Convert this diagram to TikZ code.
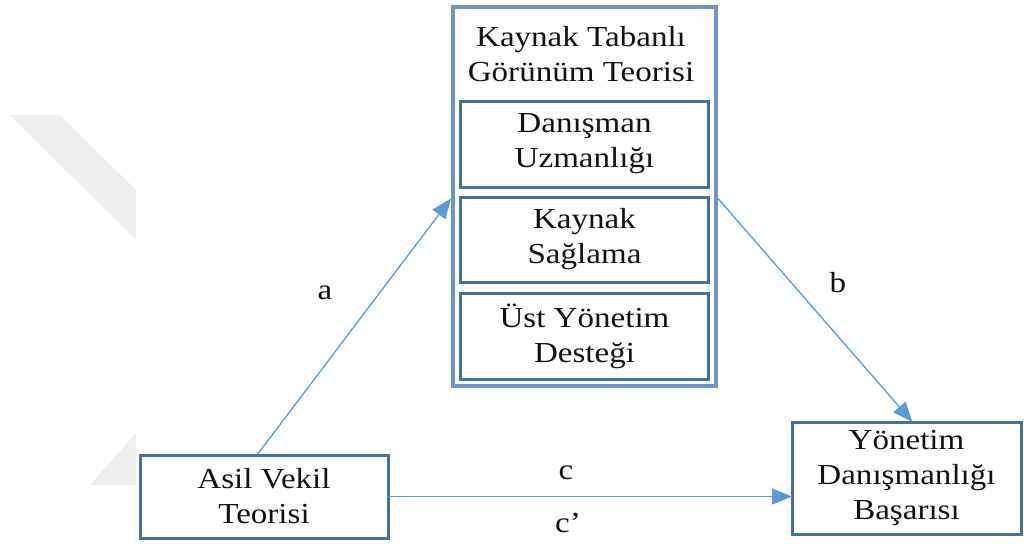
\documentclass[tikz,border=0pt]{standalone}
\usepackage{fontspec}
\setmainfont[FakeStretch=1.14]{Liberation Serif}
\usetikzlibrary{arrows.meta}
\definecolor{boxblue}{HTML}{41719C}
\definecolor{outerblue}{HTML}{7096C8}
\definecolor{arrowblue}{HTML}{5B9BD5}
\definecolor{wmgray}{HTML}{EEEEEE}
\definecolor{txt}{HTML}{111111}
\begin{document}
\begin{tikzpicture}[x=1pt,y=-1pt,
  every node/.style={font=\fontsize{29}{35}\selectfont, text=txt, align=center, inner sep=0pt, outer sep=0pt},
  box/.style={draw=boxblue, line width=3pt},
  outerbox/.style={draw=outerblue, line width=4.5pt},
  conn/.style={draw=arrowblue, line width=1.3pt, -{Triangle[length=20pt,width=16pt]}},
  lbl/.style={}
]
\useasboundingbox (0,0) rectangle (1028,547);
% watermark
\fill[wmgray] (10,115) -- (60,115) -- (136,190) -- (136,240) -- cycle;
\fill[wmgray] (136,433) -- (90,485) -- (136,485) -- cycle;
% boxes
\node[outerbox, minimum width=263pt, minimum height=379pt] (outer) at (584.5,196.5) {};
\node (title) at (581,54) {Kaynak Tabanlı\\Görünüm Teorisi};
\node[box, minimum width=248pt, minimum height=86pt] (du) at (584.5,144) {Danışman\\Uzmanlığı};
\node[box, minimum width=248pt, minimum height=85pt] (ks) at (584.5,239.5) {Kaynak\\Sağlama};
\node[box, minimum width=248pt, minimum height=86pt] (uy) at (584.5,336) {Üst Yönetim\\Desteği};
\node[box, minimum width=248pt, minimum height=83pt] (asil) at (264,496.5) {Asil Vekil\\Teorisi};
\node[box, minimum width=229pt, minimum height=112pt] (yon) at (906.5,478) {Yönetim\\Danışmanlığı\\Başarısı};
% connectors
\draw[conn] ([xshift=-7pt]asil.north) -- ([xshift=-2pt,yshift=-2pt]outer.west);
\draw[conn] ([xshift=2pt,yshift=-2pt]outer.east) -- ([xshift=6pt]yon.north);
\draw[conn] (asil.east) -- (asil.east -| yon.west);
% labels
\node[lbl] (la) at (325,293) {a};
\node[lbl] (lb) at (838,283) {b};
\node[lbl] (lc) at (566,473) {c};
\node[lbl] (lcp) at (568,523) {c’};
\end{tikzpicture}
\end{document}
